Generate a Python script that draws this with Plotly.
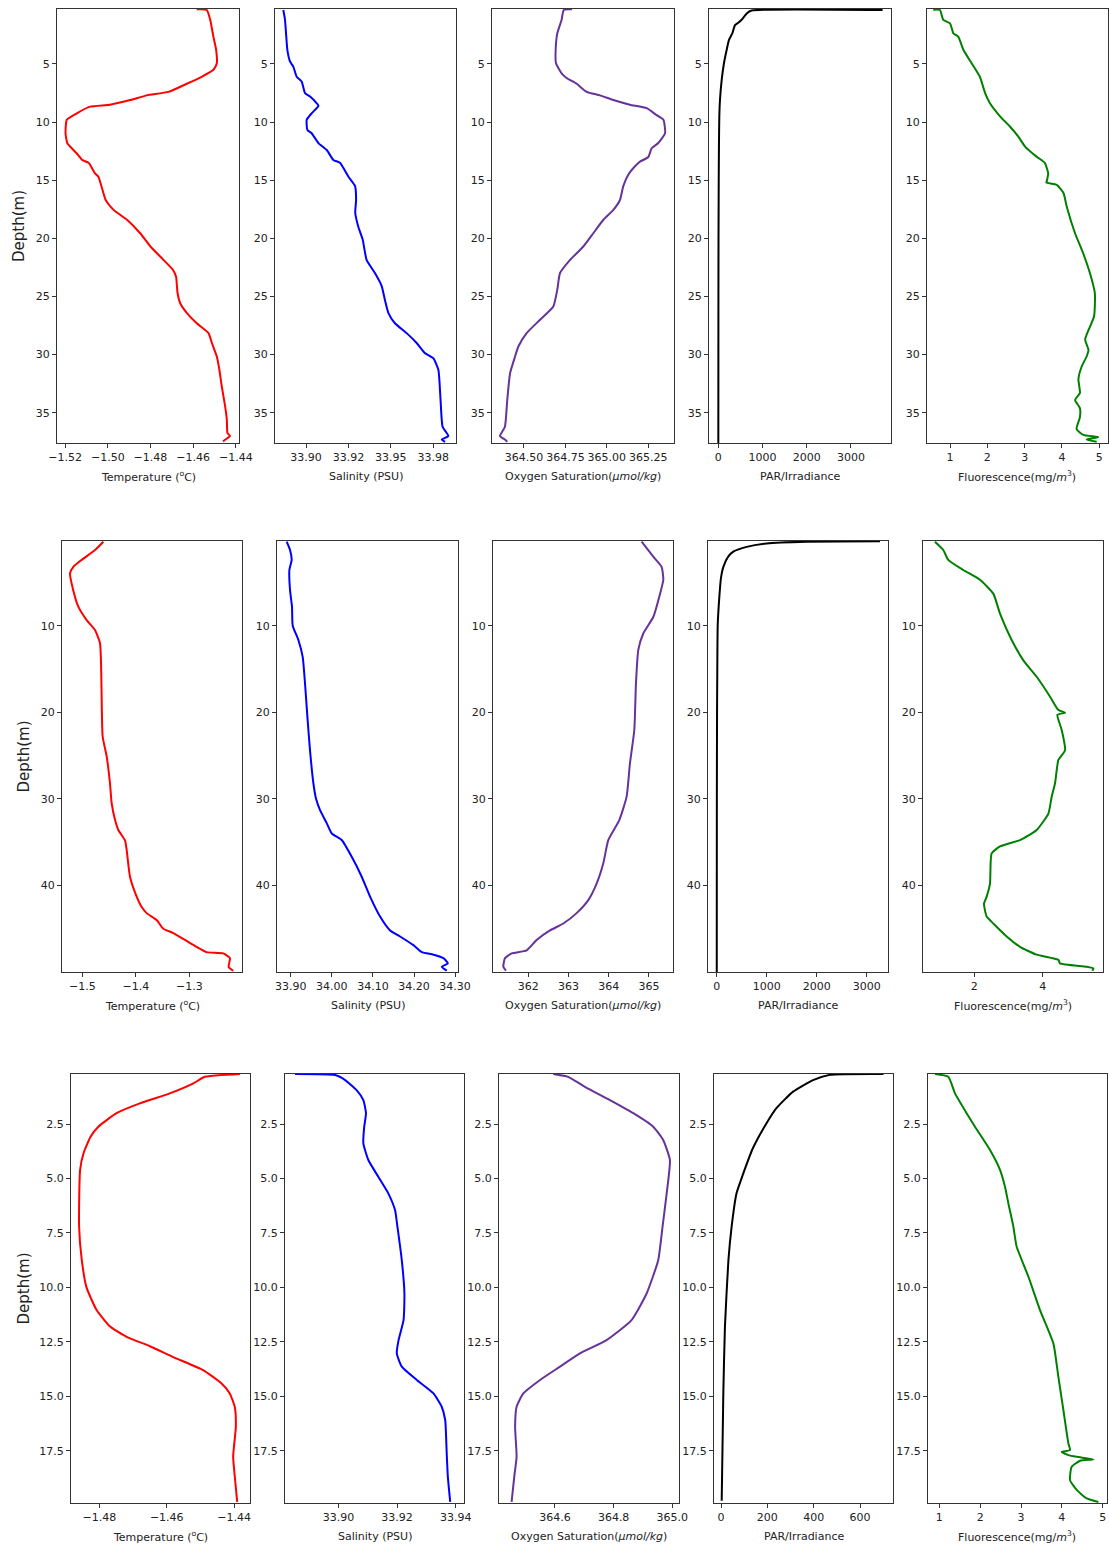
import plotly.graph_objects as go

# ---------------- Row 1 profile ----------------
r1_temp_depth = [0.3, 0.36, 1.2, 2.65, 3.8, 4.94, 5.5, 6.1, 6.7, 7.4, 7.7, 8.1, 8.5, 8.67, 9.24, 9.8, 10.96, 11.8, 12.1, 12.7, 13.25, 13.5, 14.4, 14.7, 15.5, 16.7, 17.55, 18.4, 19.56, 20.7, 21.85, 22.7, 23.3, 24.7, 25.6, 26.4, 27.3, 28.15, 29.0, 30.16, 31.3, 32.7, 34.45, 35.6, 36.75, 37.0, 37.26, 37.46]
r1_temp = [-1.4583, -1.4536, -1.452, -1.4505, -1.4492, -1.4489, -1.4505, -1.456, -1.463, -1.4716, -1.4817, -1.4895, -1.499, -1.5083, -1.5145, -1.5192, -1.5198, -1.519, -1.5177, -1.5145, -1.512, -1.509, -1.506, -1.5044, -1.503, -1.501, -1.4973, -1.491, -1.4848, -1.480, -1.4739, -1.4695, -1.468, -1.4673, -1.466, -1.463, -1.4583, -1.4528, -1.4512, -1.4489, -1.4477, -1.4466, -1.445, -1.4442, -1.4439, -1.4427, -1.4445, -1.446]

r1_sal_depth = [0.36, 1.2, 2.36, 3.8, 4.8, 5.23, 6.1, 6.5, 7.5, 7.8, 8.38, 8.6, 9.24, 9.8, 10.67, 10.96, 11.8, 12.4, 13.25, 13.5, 14.7, 15.5, 16.7, 17.8, 19.0, 20.1, 21.85, 23.0, 24.1, 25.3, 26.4, 27.3, 28.15, 29.0, 29.87, 30.3, 31.3, 33.9, 36.2, 37.0, 37.3, 37.5]
r1_sal = [33.8866, 33.8876, 33.8882, 33.889, 33.8906, 33.8925, 33.8945, 33.8974, 33.8994, 33.9024, 33.9063, 33.9073, 33.9033, 33.9004, 33.9008, 33.9033, 33.9073, 33.9122, 33.9161, 33.92, 33.925, 33.9289, 33.9295, 33.929, 33.9308, 33.9334, 33.9357, 33.9407, 33.9446, 33.9465, 33.9485, 33.9524, 33.9593, 33.9652, 33.9701, 33.975, 33.978, 33.9793, 33.9805, 33.9839, 33.98, 33.982]

r1_oxy_depth = [0.3, 0.36, 1.2, 2.36, 3.8, 4.94, 5.8, 6.2, 6.7, 7.4, 7.7, 8.1, 8.5, 8.8, 9.4, 9.8, 10.96, 11.8, 12.25, 13.0, 13.4, 13.8, 14.5, 15.5, 16.7, 17.55, 18.4, 19.56, 20.7, 21.85, 23.0, 24.4, 25.86, 27.0, 28.15, 29.3, 30.16, 31.6, 33.9, 36.2, 37.0, 37.3, 37.5]
r1_oxy = [364.79, 364.74, 364.727, 364.701, 364.691, 364.693, 364.727, 364.757, 364.818, 364.878, 364.958, 365.039, 365.139, 365.24, 365.30, 365.341, 365.351, 365.31, 365.27, 365.25, 365.20, 365.17, 365.13, 365.099, 365.079, 365.039, 364.979, 364.918, 364.858, 364.778, 364.717, 364.701, 364.677, 364.597, 364.516, 364.466, 364.446, 364.416, 364.399, 364.385, 364.355, 364.385, 364.399]

r1_par_depth = [0.36, 0.4, 0.65, 1.2, 1.45, 1.65, 2.36, 2.94, 3.77, 4.94, 6.37, 8.1, 9.5, 12.0, 15.0, 20.0, 25.0, 30.0, 37.6]
r1_par = [3715, 755, 642, 527, 452, 378, 317, 240, 190, 128, 77, 38, 23, 15, 10, 5, 3, 2, 1]

r1_flu_depth = [0.33, 0.36, 1.2, 1.5, 2.36, 2.65, 3.8, 4.94, 6.1, 7.5, 8.38, 9.5, 10.4, 11.25, 12.1, 12.97, 13.5, 14.4, 15.1, 15.2, 15.4, 16.1, 17.3, 19.56, 21.3, 23.0, 24.7, 26.7, 27.9, 28.7, 29.6, 30.16, 31.0, 32.1, 33.3, 33.9, 34.6, 35.4, 36.4, 36.9, 37.1, 37.3, 37.5]
r1_flu = [0.55, 0.73, 0.82, 1.0, 1.09, 1.22, 1.36, 1.58, 1.80, 1.94, 2.07, 2.34, 2.61, 2.83, 3.01, 3.32, 3.54, 3.63, 3.59, 3.58, 3.86, 4.04, 4.13, 4.35, 4.57, 4.75, 4.88, 4.86, 4.71, 4.62, 4.71, 4.66, 4.53, 4.44, 4.48, 4.35, 4.48, 4.48, 4.39, 4.57, 4.97, 4.66, 4.93]

# ---------------- Row 2 profile ----------------
r2_temp_depth = [0.3, 1.26, 2.4, 3.2, 3.95, 5.9, 7.8, 9.35, 10.5, 12.0, 14.35, 18.2, 22.8, 25.1, 28.2, 30.5, 32.4, 33.6, 34.8, 35.9, 39.0, 41.3, 42.5, 43.2, 44.0, 45.0, 45.5, 46.3, 47.1, 47.7, 47.85, 48.4, 49.4, 49.85]
r2_temp = [-1.4607, -1.4763, -1.5012, -1.5168, -1.523, -1.517, -1.5075, -1.4919, -1.4763, -1.467, -1.465, -1.4639, -1.462, -1.4545, -1.4483, -1.4452, -1.439, -1.4327, -1.4202, -1.4171, -1.4109, -1.3984, -1.389, -1.3797, -1.361, -1.3486, -1.3299, -1.3081, -1.2863, -1.2676, -1.2364, -1.224, -1.2265, -1.2178]

r2_sal_depth = [0.3, 1.26, 2.4, 3.57, 5.9, 7.8, 10.0, 11.65, 13.6, 16.7, 20.5, 24.4, 28.2, 30.0, 31.3, 32.8, 34.0, 34.76, 36.7, 39.0, 41.3, 43.6, 45.2, 45.9, 46.9, 47.7, 48.0, 48.4, 49.0, 49.4, 49.85]
r2_sal = [33.8903, 33.8984, 33.9024, 33.8968, 33.8984, 33.9032, 33.9049, 33.9187, 33.9292, 33.9349, 33.9406, 33.947, 33.9552, 33.9617, 33.9714, 33.9876, 34.0, 34.0241, 34.0485, 34.0728, 34.0931, 34.1174, 34.1418, 34.1661, 34.1986, 34.2189, 34.2473, 34.2716, 34.2822, 34.2675, 34.2797]

r2_oxy_depth = [0.3, 2.03, 3.2, 4.7, 6.65, 9.0, 10.9, 12.8, 16.7, 22.05, 25.9, 29.75, 32.45, 34.76, 37.45, 39.8, 41.7, 43.2, 44.4, 45.2, 46.3, 47.5, 47.85, 48.4, 49.4, 49.85]
r2_oxy = [364.817, 365.107, 365.314, 365.356, 365.256, 365.107, 364.858, 364.734, 364.676, 364.635, 364.527, 364.444, 364.262, 363.988, 363.864, 363.698, 363.491, 363.201, 362.870, 362.539, 362.207, 361.959, 361.586, 361.420, 361.379, 361.445]

r2_par_depth = [0.25, 0.3, 0.5, 0.9, 1.45, 2.0, 3.2, 4.5, 6.65, 10.0, 15.0, 20.0, 30.0, 40.0, 50.0]
r2_par = [3267, 1800, 1000, 600, 333, 233, 133, 85, 53, 20, 12, 7, 3, 2, 1]

r2_flu_depth = [0.3, 1.26, 2.4, 3.57, 4.7, 6.3, 8.6, 11.65, 14.0, 15.9, 18.2, 19.75, 20.05, 20.3, 22.05, 24.4, 25.5, 28.2, 29.75, 31.7, 33.6, 34.76, 35.5, 36.3, 39.8, 41.3, 42.1, 43.6, 44.4, 45.9, 47.1, 48.0, 48.6, 49.0, 49.4, 49.6, 49.85]
r2_flu = [0.849, 1.093, 1.239, 1.678, 2.166, 2.556, 2.751, 3.093, 3.434, 3.824, 4.215, 4.459, 4.654, 4.43, 4.556, 4.654, 4.459, 4.361, 4.263, 4.166, 3.824, 3.337, 2.751, 2.507, 2.459, 2.361, 2.283, 2.361, 2.556, 2.946, 3.337, 3.824, 4.459, 4.507, 5.288, 5.483, 5.45]

# ---------------- Row 3 profile ----------------
r3_temp_depth = [0.2, 0.33, 0.63, 1.09, 1.55, 2.0, 2.62, 3.08, 3.85, 4.6, 7.2, 8.75, 10.0, 11.04, 11.8, 12.27, 12.7, 13.2, 13.8, 14.4, 14.87, 15.5, 16.4, 17.78, 18.7, 19.85]
r3_temp = [-1.4383, -1.4487, -1.4521, -1.4591, -1.468, -1.4749, -1.4803, -1.4826, -1.4847, -1.4857, -1.486, -1.4852, -1.4838, -1.4808, -1.4768, -1.4719, -1.465, -1.4581, -1.4492, -1.4438, -1.4413, -1.4398, -1.4395, -1.4403, -1.4398, -1.4391]

r3_sal_depth = [0.2, 0.25, 0.48, 0.94, 1.4, 2.0, 2.62, 3.39, 4.15, 4.92, 5.68, 6.45, 7.2, 8.75, 10.28, 11.5, 12.42, 13.03, 13.64, 14.25, 14.87, 15.48, 16.1, 17.6, 18.7, 19.85]
r3_sal = [33.8852, 33.8989, 33.9023, 33.9062, 33.9085, 33.9094, 33.9088, 33.9085, 33.9102, 33.9136, 33.917, 33.9193, 33.9201, 33.9216, 33.9225, 33.9222, 33.9205, 33.9199, 33.9216, 33.9267, 33.9324, 33.9352, 33.9364, 33.9369, 33.9373, 33.9381]

r3_oxy_depth = [0.2, 0.33, 0.79, 1.4, 2.0, 2.62, 3.23, 4.15, 5.68, 7.2, 8.75, 10.28, 11.5, 12.42, 13.03, 13.64, 14.25, 14.87, 15.48, 16.4, 17.78, 18.7, 19.85]
r3_oxy = [364.594, 364.645, 364.702, 364.7875, 364.867, 364.935, 364.969, 364.992, 364.981, 364.967, 364.952, 364.9125, 364.861, 364.776, 364.685, 364.617, 364.549, 364.492, 364.469, 364.464, 364.469, 364.461, 364.452]

r3_par_depth = [0.2, 0.24, 0.48, 1.01, 1.76, 2.45, 3.6, 4.98, 5.68, 7.2, 8.75, 11.8, 14.87, 19.8]
r3_par = [701, 470, 397, 311, 240, 197, 138, 89, 67, 46, 32, 17, 10, 3]

r3_flu_depth = [0.2, 0.33, 1.09, 2.0, 2.62, 3.69, 4.6, 5.38, 6.14, 7.2, 8.13, 9.5, 11.04, 12.57, 14.1, 15.63, 17.16, 17.47, 17.55, 17.7, 17.78, 17.9, 17.96, 18.24, 18.85, 19.3, 19.69, 19.85]
r3_flu = [0.894, 1.22, 1.384, 1.669, 1.873, 2.241, 2.486, 2.608, 2.69, 2.812, 2.894, 3.18, 3.465, 3.792, 3.914, 4.037, 4.159, 4.2, 3.996, 4.159, 4.363, 4.771, 4.445, 4.24, 4.2, 4.363, 4.608, 4.894]

# ---------------- tick labels ----------------
r1_ticks = [[-1.52, -1.50, -1.48, -1.46, -1.44], [33.9, 33.925, 33.95, 33.975], [364.5, 364.75, 365.0, 365.25], [0, 1000, 2000, 3000], [1, 2, 3, 4, 5]]
r1_ticktext = [["−1.52", "−1.50", "−1.48", "−1.46", "−1.44"], ["33.90", "33.92", "33.95", "33.98"], ["364.50", "364.75", "365.00", "365.25"], ["0", "1000", "2000", "3000"], ["1", "2", "3", "4", "5"]]
r2_ticks = [[-1.5, -1.4, -1.3], [33.9, 34.0, 34.1, 34.2, 34.3], [362, 363, 364, 365], [0, 1000, 2000, 3000], [2, 4]]
r2_ticktext = [["−1.5", "−1.4", "−1.3"], ["33.90", "34.00", "34.10", "34.20", "34.30"], ["362", "363", "364", "365"], ["0", "1000", "2000", "3000"], ["2", "4"]]
r3_ticks = [[-1.48, -1.46, -1.44], [33.90, 33.92, 33.94], [364.6, 364.8, 365.0], [0, 200, 400, 600], [1, 2, 3, 4, 5]]
r3_ticktext = [["−1.48", "−1.46", "−1.44"], ["33.90", "33.92", "33.94"], ["364.6", "364.8", "365.0"], ["0", "200", "400", "600"], ["1", "2", "3", "4", "5"]]
r1_depth_ticks = [5, 10, 15, 20, 25, 30, 35]
r2_depth_ticks = [10, 20, 30, 40]
r3_depth_ticks = [2.5, 5.0, 7.5, 10.0, 12.5, 15.0, 17.5]

x_titles = ["Temperature (<sup>o</sup>C)", "Salinity (PSU)", "Oxygen Saturation(<i>μmol/kg</i>)",
            "PAR/Irradiance", "Fluorescence(mg/<i>m</i><sup>3</sup>)"]
colors = ["#ff0000", "#0000ff", "#663399", "#000000", "#008000"]

# ---------------- layout geometry (pixels) ----------------
W, H = 1109, 1546
rows = [
    dict(data=[(r1_temp, r1_temp_depth), (r1_sal, r1_sal_depth), (r1_oxy, r1_oxy_depth), (r1_par, r1_par_depth), (r1_flu, r1_flu_depth)],
         ticks=r1_ticks, ticktext=r1_ticktext, yticks=r1_depth_ticks, ytext=[str(v) for v in r1_depth_ticks],
         yrange=[37.6, 0.27], ypx=(9, 443),
         xpx=[(57, 239), (275, 456), (492, 674), (709, 891), (927, 1108)],
         xr=[[-1.5238, -1.4385], [33.8817, 33.9884], [364.307, 365.405], [-210, 3905], [0.383, 5.233]]),
    dict(data=[(r2_temp, r2_temp_depth), (r2_sal, r2_sal_depth), (r2_oxy, r2_oxy_depth), (r2_par, r2_par_depth), (r2_flu, r2_flu_depth)],
         ticks=r2_ticks, ticktext=r2_ticktext, yticks=r2_depth_ticks, ytext=[str(v) for v in r2_depth_ticks],
         yrange=[50.0, 0.22], ypx=(541, 972),
         xpx=[(62, 242), (277, 458), (493, 673), (708, 888), (923, 1103)],
         xr=[[-1.538, -1.2015], [33.8667, 34.307], [361.122, 365.597], [-174, 3427], [0.5, 5.763]]),
    dict(data=[(r3_temp, r3_temp_depth), (r3_sal, r3_sal_depth), (r3_oxy, r3_oxy_depth), (r3_par, r3_par_depth), (r3_flu, r3_flu_depth)],
         ticks=r3_ticks, ticktext=r3_ticktext, yticks=r3_depth_ticks, ytext=["%.1f" % v for v in r3_depth_ticks],
         yrange=[19.9, 0.2], ypx=(1074, 1503),
         xpx=[(71, 250), (285, 464), (499, 679), (714, 893), (928, 1107)],
         xr=[[-1.4884, -1.4353], [33.8818, 33.9428], [364.409, 365.023], [-30.2, 742], [0.723, 5.105]]),
]

fig = go.Figure()
annotations = []
layout = {}
font_family = "DejaVu Sans"
idx = 0
for r, row in enumerate(rows):
    y0, y1 = row["ypx"]
    for c in range(5):
        idx += 1
        xs = "" if idx == 1 else str(idx)
        xv, yv = row["data"][c]
        fig.add_trace(go.Scatter(
            x=xv, y=yv, mode="lines", xaxis="x" + xs, yaxis="y" + xs,
            line=dict(color=colors[c], width=2, shape="spline", smoothing=0.5),
            showlegend=False, hoverinfo="skip"))
        xl, xr_ = row["xpx"][c]
        common = dict(showline=True, linecolor="#333333", linewidth=1, mirror=True,
                      ticks="outside", ticklen=4, tickcolor="#333333", showgrid=False,
                      zeroline=False, tickfont=dict(size=11, color="#222222", family=font_family))
        layout["xaxis" + xs] = dict(domain=[xl / W, xr_ / W], range=row["xr"][c],
                                    anchor="y" + xs, tickvals=row["ticks"][c], ticktext=row["ticktext"][c],
                                    **common)
        layout["yaxis" + xs] = dict(domain=[1 - y1 / H, 1 - y0 / H], range=row["yrange"],
                                    anchor="x" + xs, tickvals=row["yticks"], ticktext=row["ytext"],
                                    **common)
        annotations.append(dict(text=x_titles[c], x=(xl + xr_) / 2 / W, y=1 - (y1 + 33) / H,
                                xref="paper", yref="paper", showarrow=False,
                                xanchor="center", yanchor="middle",
                                font=dict(size=11, color="#222222", family=font_family)))
    annotations.append(dict(text="Depth(m)", x=(19 if r == 0 else 23) / W, y=1 - (y0 + y1) / 2 / H,
                            xref="paper", yref="paper", showarrow=False, textangle=-90,
                            xanchor="center", yanchor="middle",
                            font=dict(size=15, color="#222222", family=font_family)))

fig.update_layout(width=W, height=H, margin=dict(l=0, r=0, t=0, b=0, autoexpand=False),
                  paper_bgcolor="white", plot_bgcolor="white",
                  font=dict(family=font_family), annotations=annotations, **layout)
fig.write_html("out.html")
